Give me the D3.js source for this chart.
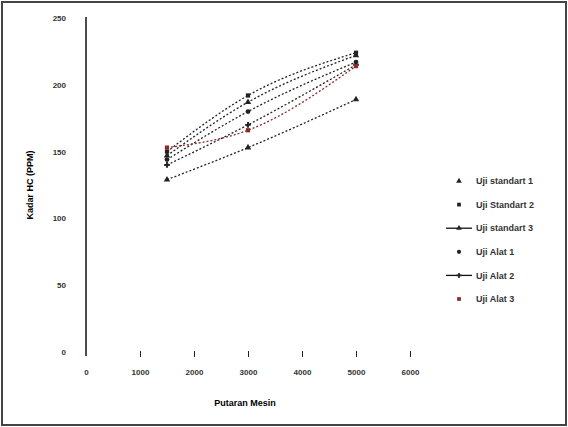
<!DOCTYPE html>
<html>
<head>
<meta charset="utf-8">
<script src="https://cdn.jsdelivr.net/npm/d3@7"></script>
<style>
  body { margin: 0; background: #fff; }
  text { font-family: "Liberation Sans", Arial, sans-serif; }
</style>
</head>
<body>
<div id="chart"></div>
<script>
// data
const rpm = [1500, 3000, 5000];
const seriesNames = ["Uji standart 1", "Uji Standart 2", "Uji standart 3", "Uji Alat 1", "Uji Alat 2", "Uji Alat 3"];
const ujiStandart1 = [129, 153, 189];
const ujiStandart2 = [150, 192, 224];
const ujiStandart3 = [147, 187, 222];
const ujiAlat1 = [144, 180, 217];
const ujiAlat2 = [140, 170, 215];
const ujiAlat3 = [153, 166, 214];
const xTicks = [0, 1000, 2000, 3000, 4000, 5000, 6000];
const yTicks = [0, 50, 100, 150, 200, 250];

const W = 568, H = 427;
const svg = d3.select("#chart").append("svg").attr("width", W).attr("height", H);

// frame
svg.append("rect").attr("x", 2).attr("y", 2).attr("width", W - 4).attr("height", H - 4)
    .attr("fill", "#fff").attr("stroke", "#444").attr("stroke-width", 2);

const x = d3.scaleLinear().domain([0, 6000]).range([86, 410]);
const y = d3.scaleLinear().domain([0, 250]).range([352, 18]);

// y axis: line only, labels to the left
const yAxis = svg.append("g").attr("transform", "translate(86,0)")
    .call(d3.axisLeft(y).tickValues(yTicks).tickSize(0).tickPadding(20));
yAxis.select(".domain").attr("stroke", "#111").attr("stroke-width", 1.5).attr("d", "M0,17V356");
yAxis.selectAll("text").attr("font-size", 8).attr("font-weight", "bold").attr("fill", "#333");

// x axis: tick marks only, no baseline
const xAxis = svg.append("g").attr("transform", "translate(0,351)")
    .call(d3.axisBottom(x).tickValues(xTicks).tickFormat(d3.format("d")).tickSize(6).tickPadding(12));
xAxis.select(".domain").remove();
xAxis.selectAll(".tick line").filter(d => d === 0).remove();
xAxis.selectAll(".tick line").attr("stroke", "#222");
xAxis.selectAll("text").attr("font-size", 8).attr("font-weight", "bold").attr("fill", "#333");

// titles
svg.append("text").attr("transform", "translate(33,185) rotate(-90)")
    .attr("text-anchor", "middle").attr("font-size", 9).attr("font-weight", "bold")
    .text("Kadar HC (PPM)");
svg.append("text").attr("x", 245).attr("y", 406)
    .attr("text-anchor", "middle").attr("font-size", 9).attr("font-weight", "bold")
    .text("Putaran Mesin");

const series = [ujiStandart1, ujiStandart2, ujiStandart3, ujiAlat1, ujiAlat2, ujiAlat3].map((vals, i) => ({
    name: seriesNames[i],
    values: vals.map((v, j) => ({ x: rpm[j], y: v }))
}));
const colors = ["#222", "#222", "#222", "#222", "#222", "#8a2a2a"];
const markers = [d3.symbolTriangle, d3.symbolSquare, d3.symbolTriangle, d3.symbolCircle, d3.symbolCross, d3.symbolSquare];

const line = d3.line().x(d => x(d.x)).y(d => y(d.y)).curve(d3.curveMonotoneX);

const g = svg.append("g").selectAll("g").data(series).join("g");
g.append("path").attr("d", d => line(d.values)).attr("fill", "none")
    .attr("stroke", (d, i) => colors[i]).attr("stroke-width", 1.3)
    .attr("stroke-dasharray", "2,2");
g.each(function(d, i) {
    d3.select(this).selectAll("path.m").data(d.values).join("path").attr("class", "m")
        .attr("transform", p => `translate(${x(p.x)},${y(p.y)})`)
        .attr("d", d3.symbol().type(markers[i]).size(18))
        .attr("fill", colors[i]);
});

// legend
const legend = svg.append("g").selectAll("g").data(series).join("g")
    .attr("transform", (d, i) => `translate(459,${181 + i * 23.6})`);
legend.filter((d, i) => i === 2 || i === 4).append("line")
    .attr("x1", -13).attr("x2", 13).attr("stroke", "#111").attr("stroke-width", 1.3);
legend.append("path")
    .attr("d", (d, i) => d3.symbol().type(markers[i]).size(14)())
    .attr("fill", (d, i) => colors[i]);
legend.append("text").attr("x", 17).attr("dy", "0.35em")
    .attr("font-size", 9).attr("font-weight", "bold").attr("fill", "#333")
    .text(d => d.name);
</script>
</body>
</html>
